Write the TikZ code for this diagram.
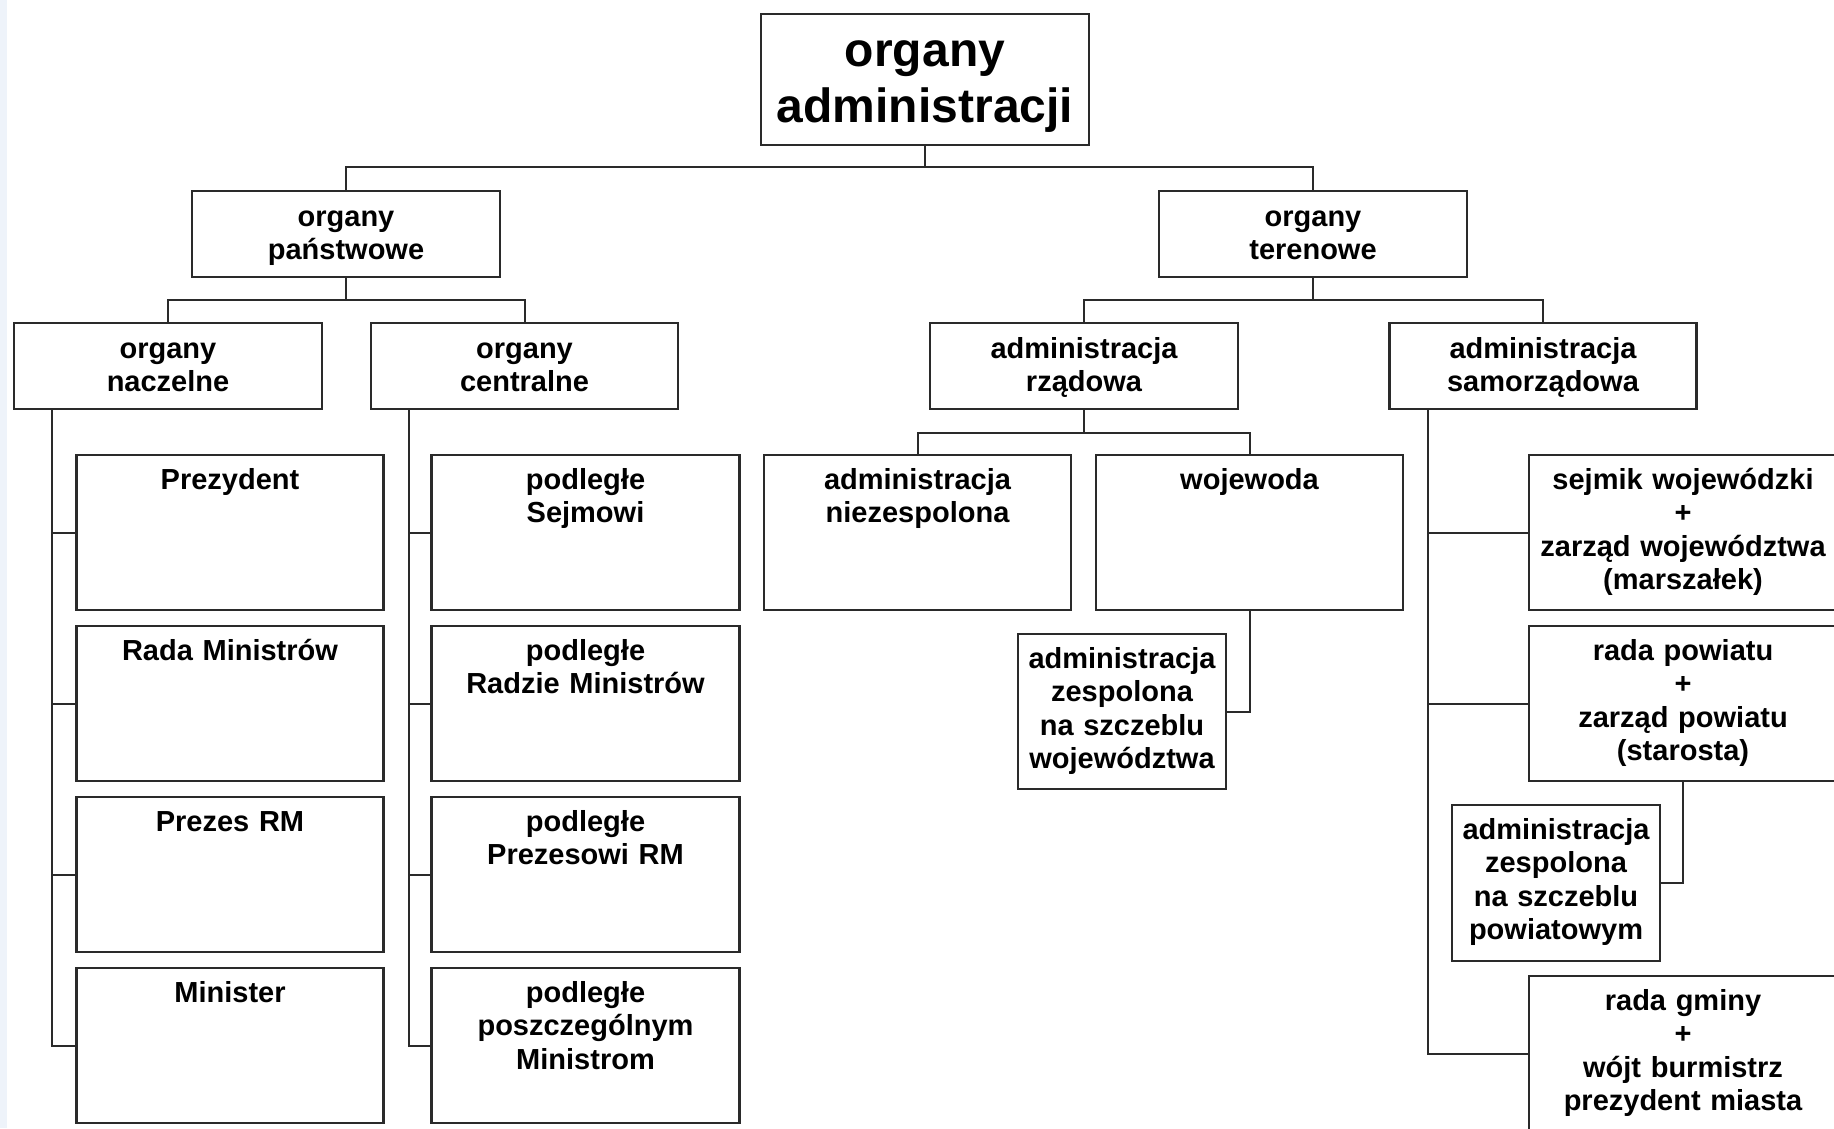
\documentclass[tikz,border=0pt]{standalone}
\usepackage{fontspec}
\setmainfont{Liberation Sans}
\definecolor{strip}{HTML}{EEF3FA}
\definecolor{ln}{HTML}{2A2A2A}
\tikzset{
  boxst/.style={draw=ln, line width=2.2pt, fill=white, rectangle, inner sep=0pt, outer sep=0pt, anchor=north west},
  txtst/.style={font=\fontsize{29}{33.5}\selectfont\bfseries, align=center, inner sep=0pt, anchor=base},
  bigtxt/.style={font=\fontsize{48}{56}\selectfont\bfseries, align=center, inner sep=0pt, anchor=base},
  conn/.style={draw=ln, line width=2pt}
}
% name, x, y, w, h, first-baseline offset, text style, text
\newcommand{\obox}[8]{%
  \node[boxst, minimum width=#4pt, minimum height=#5pt] (#1) at (#2,#3) {};
  \node[#7, text width=#4pt] (#1t) at ([yshift=-#6pt]#1.north) {#8};}
\begin{document}
\begin{tikzpicture}[x=1pt,y=-1pt]
\useasboundingbox (0,0) rectangle (1834,1128);
\fill[white] (0,0) rectangle (1834,1128);
\fill[strip] (0,0) rectangle (7,1128);

% level 1
\obox{root}{761}{14}{328}{131}{52}{bigtxt}{organy\\administracji}
% level 2
\obox{pan}{192}{191}{308}{86}{35}{txtst}{organy\\państwowe}
\obox{ter}{1159}{191}{308}{86}{35}{txtst}{organy\\terenowe}
% level 3
\obox{nacz}{14}{323}{308}{86}{35}{txtst}{organy\\naczelne}
\obox{cent}{371}{323}{307}{86}{35}{txtst}{organy\\centralne}
\obox{rzad}{930}{323}{308}{86}{35}{txtst}{administracja\\rządowa}
\obox{samo}{1389.5}{323}{307}{86}{35}{txtst}{administracja\\samorządowa}

\draw[conn] (root.south) -- ++(0,22);
\draw[conn] (pan.north) -- ++(0,-24) -| (ter.north);
\draw[conn] (pan.south) -- ++(0,23);
\draw[conn] (nacz.north) -- ++(0,-23) -| (cent.north);
\draw[conn] (ter.south) -- ++(0,23);
\draw[conn] (rzad.north) -- ++(0,-23) -| (samo.north);

% organy naczelne column
\obox{prez}{76.5}{455}{307}{155}{34}{txtst}{Prezydent}
\obox{rm}{76.5}{626}{307}{155}{34}{txtst}{Rada Ministrów}
\obox{prm}{76.5}{797}{307}{155}{34}{txtst}{Prezes RM}
\obox{min}{76.5}{968}{307}{155}{34}{txtst}{Minister}
\draw[conn] ([xshift=38pt]nacz.south west) |- (min.west);
\draw[conn] (prez.west) -- ++(-24.5,0);
\draw[conn] (rm.west) -- ++(-24.5,0);
\draw[conn] (prm.west) -- ++(-24.5,0);

% organy centralne column
\obox{ps}{431.5}{455}{308}{155}{34}{txtst}{podległe\\Sejmowi}
\obox{prad}{431.5}{626}{308}{155}{34}{txtst}{podległe\\Radzie Ministrów}
\obox{pprez}{431.5}{797}{308}{155}{34}{txtst}{podległe\\Prezesowi RM}
\obox{pmin}{431.5}{968}{308}{155}{34}{txtst}{podległe\\poszczególnym\\Ministrom}
\draw[conn] ([xshift=38pt]cent.south west) |- (pmin.west);
\draw[conn] (ps.west) -- ++(-23,0);
\draw[conn] (prad.west) -- ++(-23,0);
\draw[conn] (pprez.west) -- ++(-23,0);

% administracja rzadowa
\obox{niez}{764}{455}{307}{155}{34}{txtst}{administracja\\niezespolona}
\obox{woj}{1096}{455}{307}{155}{34}{txtst}{wojewoda}
\obox{zw}{1018}{634}{208}{155}{34}{txtst}{administracja\\zespolona\\na szczeblu\\województwa}
\draw[conn] (rzad.south) -- ++(0,23.5);
\draw[conn] (niez.north) -- ++(0,-22.5) -| (woj.north);
\draw[conn] (woj.south) |- (zw.east);

% administracja samorzadowa
\obox{sejm}{1529}{455}{308}{155}{34}{txtst}{sejmik wojewódzki\\+\\zarząd województwa\\(marszałek)}
\obox{rpow}{1529}{626}{308}{155}{34}{txtst}{rada powiatu\\+\\zarząd powiatu\\(starosta)}
\obox{zp}{1452}{805}{208}{156}{34}{txtst}{administracja\\zespolona\\na szczeblu\\powiatowym}
\obox{gmin}{1529}{976}{308}{155}{34}{txtst}{rada gminy\\+\\wójt burmistrz\\prezydent miasta}
\draw[conn] ([xshift=38.5pt]samo.south west) |- (gmin.west);
\draw[conn] (sejm.west) -- ++(-101,0);
\draw[conn] (rpow.west) -- ++(-101,0);
\draw[conn] (rpow.south) |- (zp.east);
\end{tikzpicture}
\end{document}
